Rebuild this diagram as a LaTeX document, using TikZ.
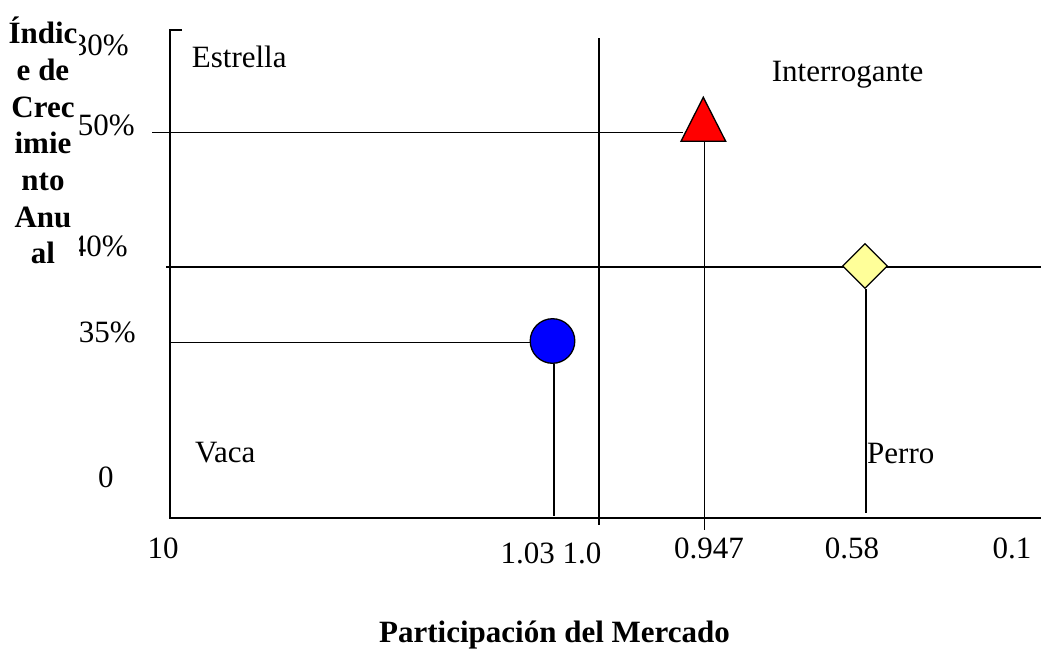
\documentclass[tikz,border=0pt]{standalone}
\usepackage{fontspec}
\setmainfont{Liberation Serif}
\usetikzlibrary{shapes.geometric}
\definecolor{dogyellow}{RGB}{255,255,153}
\tikzset{
  axisline/.style={line width=1.6pt, black},
  stemline/.style={line width=1.3pt, black},
  lbl/.style={inner sep=0pt, font=\fontsize{31}{36.7}\selectfont},
  ylbl/.style={inner sep=0pt, anchor=base, font=\fontsize{31}{36.7}\selectfont\bfseries},
  marker/.style={draw=black, line width=1.3pt, inner sep=0pt}
}
\begin{document}
\begin{tikzpicture}[x=1pt, y=-1pt]
\useasboundingbox (0,0) rectangle (1041,653);
% percent labels (partly covered by the y title box)
\node[lbl, anchor=base east] (p30) at (129,55) {30\%};
\node[lbl, anchor=base east] (p50) at (135,135) {50\%};
\node[lbl, anchor=base east] (p40) at (128,256) {40\%};
\node[lbl, anchor=base east] (p35) at (136,342) {35\%};
\node[lbl, anchor=base west] (p0) at (98,487) {0};
% y axis title
\fill[white] (4,14) rectangle (79,274);
\node[ylbl] (y1) at (43,43) {Índic};
\node[ylbl] (y2) at (43,80) {e de};
\node[ylbl] (y3) at (43,117) {Crec};
\node[ylbl] (y4) at (43,153) {imie};
\node[ylbl] (y5) at (43,190) {nto};
\node[ylbl] (y6) at (43,227) {Anu};
\node[ylbl] (y7) at (43,263) {al};
% axes
\coordinate (ytop) at (170,30);
\coordinate (ystub) at (182,30);
\coordinate (origin) at (170,518);
\coordinate (xend) at (1041,518);
\draw[axisline] (ystub) -- (ytop) -- (origin) -- (xend);
% quadrant divider
\coordinate (vtop) at (599,38);
\coordinate (vbot) at (599,525);
\draw[axisline] (vtop) -- (vbot);
% 40% line
\coordinate (h40a) at (166,267);
\coordinate (h40b) at (1041,267);
\draw[axisline] (h40a) -- (h40b);
% markers
\node[marker, circle, fill=blue, minimum size=44.6pt] (vaca) at (552.5,341) {};
\node[marker, diamond, fill=dogyellow, minimum width=45pt, minimum height=45pt] (perro) at (865,266) {};
\coordinate (triA) at (703.3,97.3);
\coordinate (triL) at (681,141.3);
\coordinate (triR) at (725.7,141.3);
\coordinate (triB) at (704.7,141.3);
% connectors
\coordinate (h50a) at (152,132.3);
\coordinate (h50b) at (683,132.3);
\draw[stemline] (h50a) -- (h50b);
\coordinate (h35a) at (170,342.3);
\draw[stemline] (h35a) -- (h35a -| vaca.west);
\coordinate (vacabot) at (554,516);
\draw[stemline] (vaca.south) ++(1.5,0) -- (vacabot);
\coordinate (tribot) at (704.7,530);
\draw[stemline] (triB) -- (tribot);
\coordinate (perrobot) at (866,513);
\draw[stemline] (perro.south) ++(1,0) -- (perrobot);
\filldraw[fill=red, draw=black, line width=1.3pt, line join=miter] (triA) -- (triL) -- (triR) -- cycle;
% quadrant labels
\node[lbl, anchor=base west] (estrella) at (191.7,67.7) {Estrella};
\node[lbl, anchor=base west] (interrogante) at (771.7,81.7) {Interrogante};
\node[lbl, anchor=base west] (vacalbl) at (195,462.7) {Vaca};
\node[lbl, anchor=base west] (perrolbl) at (867,463) {Perro};
% x tick labels
\node[lbl, anchor=base] (x10) at (163,558) {10};
\node[lbl, anchor=base] (x103) at (551,563) {1.03 1.0};
\node[lbl, anchor=base] (x0947) at (709,558) {0.947};
\node[lbl, anchor=base] (x058) at (852,558) {0.58};
\node[lbl, anchor=base] (x01) at (1012,558) {0.1};
% x axis title
\node[lbl, anchor=base, font=\fontsize{31}{36.7}\selectfont\bfseries] (xtitle) at (554.5,642) {Participación del Mercado};
\end{tikzpicture}
\end{document}
